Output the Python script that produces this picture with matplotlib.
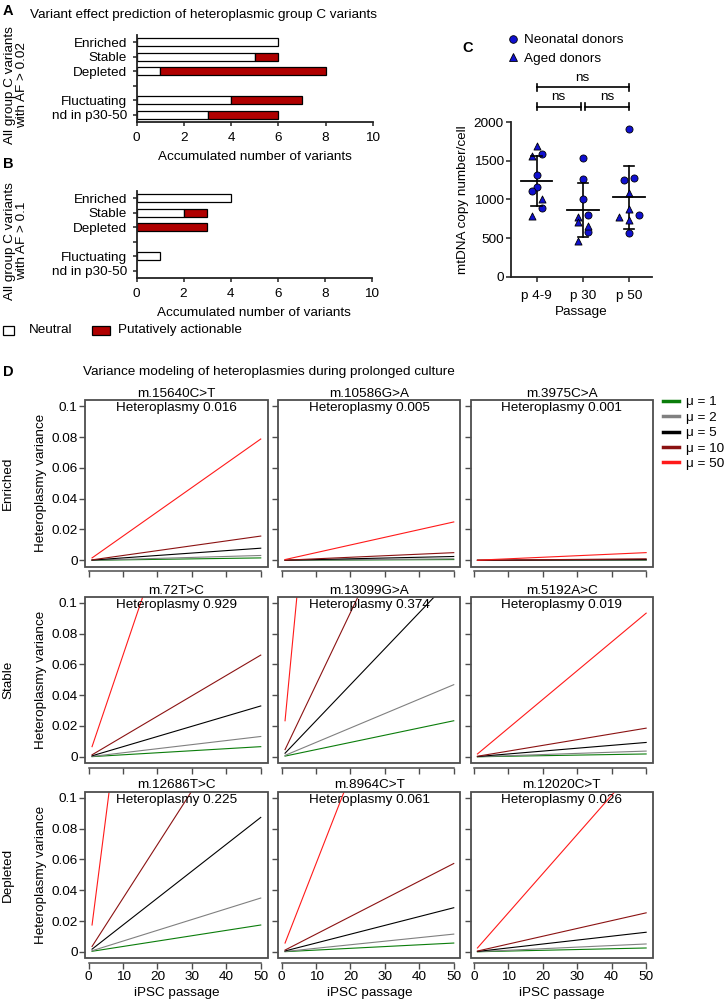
import matplotlib
matplotlib.use("Agg")
import matplotlib.pyplot as plt
import numpy as np
from matplotlib.patches import Rectangle
from matplotlib.lines import Line2D

plt.rcParams['font.family'] = ['Liberation Sans', 'DejaVu Sans']
plt.rcParams['font.size'] = 9.7

# panel A / B: variant counts
categories = ["Enriched", "Stable", "Depleted", "", "Fluctuating", "nd in p30-50"]
a_neutral = [6, 5, 1, 0, 4, 3]
a_action = [0, 1, 7, 0, 3, 3]
b_neutral = [4, 2, 0, 0, 1, 0]
b_action = [0, 1, 3, 0, 0, 0]

# panel C: mtDNA copy number per cell
passages = ["p 4-9", "p 30", "p 50"]
neo_vals = [[1589, 1317, 1158, 1114, 886],
            [1542, 1270, 1002, 799, 583],
            [1913, 1278, 1248, 799, 562]]
aged_vals = [[1693, 1563, 1010, 786],
             [777, 704, 657, 466],
             [1088, 873, 769, 734]]
# horizontal lanes of the dot layout
neo_lane = [[1, 0, 0, -1, 1], [0, 0, 0, 1, 1], [0, 1, -1, 2, 0]]
aged_lane = [[0, -1, 1, -1], [-1, -1, 1, -1], [0, 0, -2, 0]]

# panel D: variance modelling
mu_labels = ["\u03bc = 1", "\u03bc = 2", "\u03bc = 5", "\u03bc = 10", "\u03bc = 50"]
row_names = ["Enriched", "Stable", "Depleted"]
variant_names = [["m.15640C>T", "m.10586G>A", "m.3975C>A"],
                 ["m.72T>C", "m.13099G>A", "m.5192A>C"],
                 ["m.12686T>C", "m.8964C>T", "m.12020C>T"]]
heteroplasmy = [["0.016", "0.005", "0.001"],
                ["0.929", "0.374", "0.019"],
                ["0.225", "0.061", "0.026"]]
passage_range = [1, 50]
# variance at passage 1 and at passage 50 for mu = 1, 2, 5, 10, 50
var_p1 = [[[0.00003, 0.00006, 0.00016, 0.00031, 0.00157],
           [0.00001, 0.00002, 0.00005, 0.0001, 0.0005],
           [0.0, 0.0, 0.00001, 0.00002, 0.0001]],
          [[0.00013, 0.00026, 0.00066, 0.00132, 0.0066],
           [0.00047, 0.00094, 0.00234, 0.00468, 0.0234],
           [0.00004, 0.00007, 0.00019, 0.00037, 0.00186]],
          [[0.00035, 0.0007, 0.00174, 0.00349, 0.0174],
           [0.00011, 0.00023, 0.00057, 0.00115, 0.0057],
           [0.00005, 0.0001, 0.00025, 0.00051, 0.0025]]]
var_p50 = [[[0.00157, 0.00315, 0.00787, 0.01574, 0.0787],
            [0.0005, 0.001, 0.00249, 0.00498, 0.0249],
            [0.0001, 0.0002, 0.0005, 0.001, 0.005]],
           [[0.0066, 0.0132, 0.033, 0.066, 0.33],
            [0.0234, 0.0468, 0.117, 0.234, 1.17],
            [0.00186, 0.00373, 0.00932, 0.0186, 0.0932]],
           [[0.0174, 0.0349, 0.0872, 0.174, 0.872],
            [0.0057, 0.0115, 0.0286, 0.0573, 0.286],
            [0.0025, 0.0051, 0.0127, 0.0253, 0.127]]]
mu_colors = ["#0b7d0b", "#808080", "#000000", "#8b1212", "#ff1a1a"]

W, H = 726, 1001
fig = plt.figure(figsize=(W / 100, H / 100), dpi=100)


def box(l, t, r, b):
    return [l / W, 1 - b / H, (r - l) / W, (b - t) / H]


def ftext(x, y, s, **kw):
    fig.text(x / W, 1 - y / H, s, **kw)


RED = "#b00000"


def bar_panel(rect, neutral, action):
    ax = fig.add_axes(rect)
    y = np.arange(len(categories))
    n = np.array(neutral, float)
    a = np.array(action, float)
    m = n > 0
    ax.barh(y[m], n[m], height=0.55, color="white", edgecolor="black", lw=0.9)
    m = a > 0
    ax.barh(y[m], a[m], left=n[m], height=0.55, color=RED, edgecolor="black", lw=0.9)
    ax.set_ylim(5.5, -0.5)
    ax.set_xlim(0, 10)
    ax.set_yticks(y)
    ax.set_yticklabels(categories)
    ax.set_xticks(np.arange(0, 11, 2))
    for s in ["top", "right"]:
        ax.spines[s].set_visible(False)
    for s in ["left", "bottom"]:
        ax.spines[s].set_linewidth(1.3)
        ax.spines[s].set_color("#222222")
    ax.tick_params(direction="out", length=3, width=1.1, pad=4, color="#222222")
    ax.set_xlabel("Accumulated number of variants", labelpad=5)
    return ax


# ---------- A
bar_panel(box(136.7, 35, 372.7, 122), a_neutral, a_action)
ftext(3, 11, "A", fontweight="bold", fontsize=10.5, va="center")
ftext(30, 15, "Variant effect prediction of heteroplasmic group C variants", va="center")
ftext(16, 85, "All group C variants\nwith AF > 0.02", rotation=90, ha="center",
      va="center", linespacing=1.05)

# ---------- B
bar_panel(box(136.5, 191, 372, 278), b_neutral, b_action)
ftext(3, 164, "B", fontweight="bold", fontsize=10.5, va="center")
ftext(16, 241, "All group C variants\nwith AF > 0.1", rotation=90, ha="center",
      va="center", linespacing=1.05)

# legend for A/B
fig.patches.append(Rectangle((3 / W, 1 - 334.5 / H), 10.5 / W, 9 / H, transform=fig.transFigure,
                             facecolor="white", edgecolor="black", lw=0.9))
ftext(29, 330, "Neutral", va="center")
fig.patches.append(Rectangle((92 / W, 1 - 334.5 / H), 18 / W, 9 / H, transform=fig.transFigure,
                             facecolor=RED, edgecolor="black", lw=0.9))
ftext(118, 330, "Putatively actionable", va="center")

# ---------- C
axc = fig.add_axes(box(510.7, 122.3, 652, 276.7))
lane_w = 0.109
BLUE = "#1010d0"
for i in range(3):
    xs = i + lane_w * np.array(neo_lane[i])
    axc.scatter(xs, neo_vals[i], s=26, marker="o", color=BLUE, edgecolor="black",
                lw=0.6, zorder=3)
    xs = i + lane_w * np.array(aged_lane[i])
    axc.scatter(xs, aged_vals[i], s=26, marker="^", color=BLUE, edgecolor="black",
                lw=0.6, zorder=3)
    allv = np.array(neo_vals[i] + aged_vals[i], float)
    mean, sd = allv.mean(), allv.std(ddof=1)
    axc.plot([i - 0.345, i + 0.345], [mean, mean], color="black", lw=1.3, zorder=4)
    axc.plot([i, i], [mean - sd, mean + sd], color="black", lw=1.2, zorder=2)
    for v in (mean - sd, mean + sd):
        axc.plot([i - 0.11, i + 0.11], [v, v], color="black", lw=1.2, zorder=4)
axc.set_xlim(-0.56, 2.5)
axc.set_ylim(0, 2000)
axc.set_yticks([0, 500, 1000, 1500, 2000])
axc.set_xticks(range(3))
axc.set_xticklabels(passages)
for s in ["top", "right"]:
    axc.spines[s].set_visible(False)
for s in ["left", "bottom"]:
    axc.spines[s].set_linewidth(1.3)
    axc.spines[s].set_color("#222222")
axc.tick_params(axis="y", direction="out", length=3.5, width=1.1, pad=1.5, color="#222222")
axc.tick_params(axis="x", direction="out", length=3.5, width=1.1, pad=6, color="#222222")
axc.set_ylabel("mtDNA copy number/cell", labelpad=3)
axc.set_xlabel("Passage", labelpad=3)


def bracket(x1, x2, y, label):
    kw = dict(color="black", lw=1.2, clip_on=False)
    axc.plot([x1, x2], [y, y], **kw)
    for x in (x1, x2):
        axc.plot([x, x], [y - 45, y + 45], **kw)
    axc.text((x1 + x2) / 2, y + 45, label, ha="center", va="bottom", fontsize=9.7)


bracket(0, 2, 2453, "ns")
bracket(0, 0.955, 2202, "ns")
bracket(1.045, 2, 2202, "ns")
ftext(462, 47.5, "C", fontweight="bold", fontsize=10.5, va="center")
hl = [Line2D([], [], ls="none", marker="o", ms=5.5, color=BLUE, mec="black", mew=0.6),
      Line2D([], [], ls="none", marker="^", ms=5.5, color=BLUE, mec="black", mew=0.6)]
fig.legend(hl, ["Neonatal donors", "Aged donors"], loc="upper left",
           bbox_to_anchor=(506 / W, 1 - 34 / H), frameon=False, handlelength=1.0,
           handletextpad=0.35, labelspacing=0.45, borderpad=0, borderaxespad=0)

# ---------- D
ftext(3, 371.7, "D", fontweight="bold", fontsize=10.5, va="center")
ftext(83, 371.7, "Variance modeling of heteroplasmies during prolonged culture", va="center")
col_left = [85.3, 278.3, 470.7]
row_top = [400, 596.5, 791.5]
pw, ph = 182.2, 166.5
for r in range(3):
    for c in range(3):
        l, t = col_left[c], row_top[r]
        ax = fig.add_axes(box(l, t, l + pw, t + ph))
        for k in range(5):
            ax.plot(passage_range, [var_p1[r][c][k], var_p50[r][c][k]],
                    color=mu_colors[k], lw=0.8)
        ax.set_xlim(-0.96, 51.96)
        ax.set_ylim(-0.004, 0.104)
        ax.add_patch(Rectangle((0, 0), 1, 1, transform=ax.transAxes, fill=False,
                               edgecolor="#4d4d4d", lw=1.3, clip_on=False, zorder=5))
        for s in ["top", "right", "left"]:
            ax.spines[s].set_visible(False)
        ax.spines["bottom"].set_position(("outward", 3.5))
        ax.spines["bottom"].set_bounds(0, 50)
        ax.spines["bottom"].set_color("#4d4d4d")
        ax.spines["bottom"].set_linewidth(1.1)
        ax.set_xticks(range(0, 51, 10))
        ax.set_yticks([0, 0.02, 0.04, 0.06, 0.08, 0.1])
        ax.tick_params(direction="out", length=4, width=1.0, color="#4d4d4d", labelsize=9.7)
        ax.tick_params(axis="y", pad=1.5)
        ax.tick_params(axis="x", pad=1.5)
        if c == 0:
            ax.set_yticklabels(["0", "0.02", "0.04", "0.06", "0.08", "0.1"])
            ax.set_ylabel("Heteroplasmy variance", labelpad=3)
            ftext(8, t + ph / 2, row_names[r], rotation=90, ha="center", va="center")
        else:
            ax.set_yticklabels([])
        if r == 2:
            ax.set_xlabel("iPSC passage", labelpad=3)
        else:
            ax.set_xticklabels([])
        ax.text(0.5, 1.0, variant_names[r][c], transform=ax.transAxes, ha="center",
                va="bottom")
        ax.text(0.5, 0.985, "Heteroplasmy " + heteroplasmy[r][c], transform=ax.transAxes,
                ha="center", va="top")
        if r == 0 and c == 2:
            hd = [Line2D([], [], color=col, lw=2.5) for col in mu_colors]
            fig.legend(hd, mu_labels, loc="upper left", bbox_to_anchor=(663 / W, 1 - 396 / H),
                       frameon=False, handlelength=1.2, handletextpad=0.5,
                       labelspacing=0.22, borderpad=0, borderaxespad=0)

fig.savefig("out.png", dpi=100)
